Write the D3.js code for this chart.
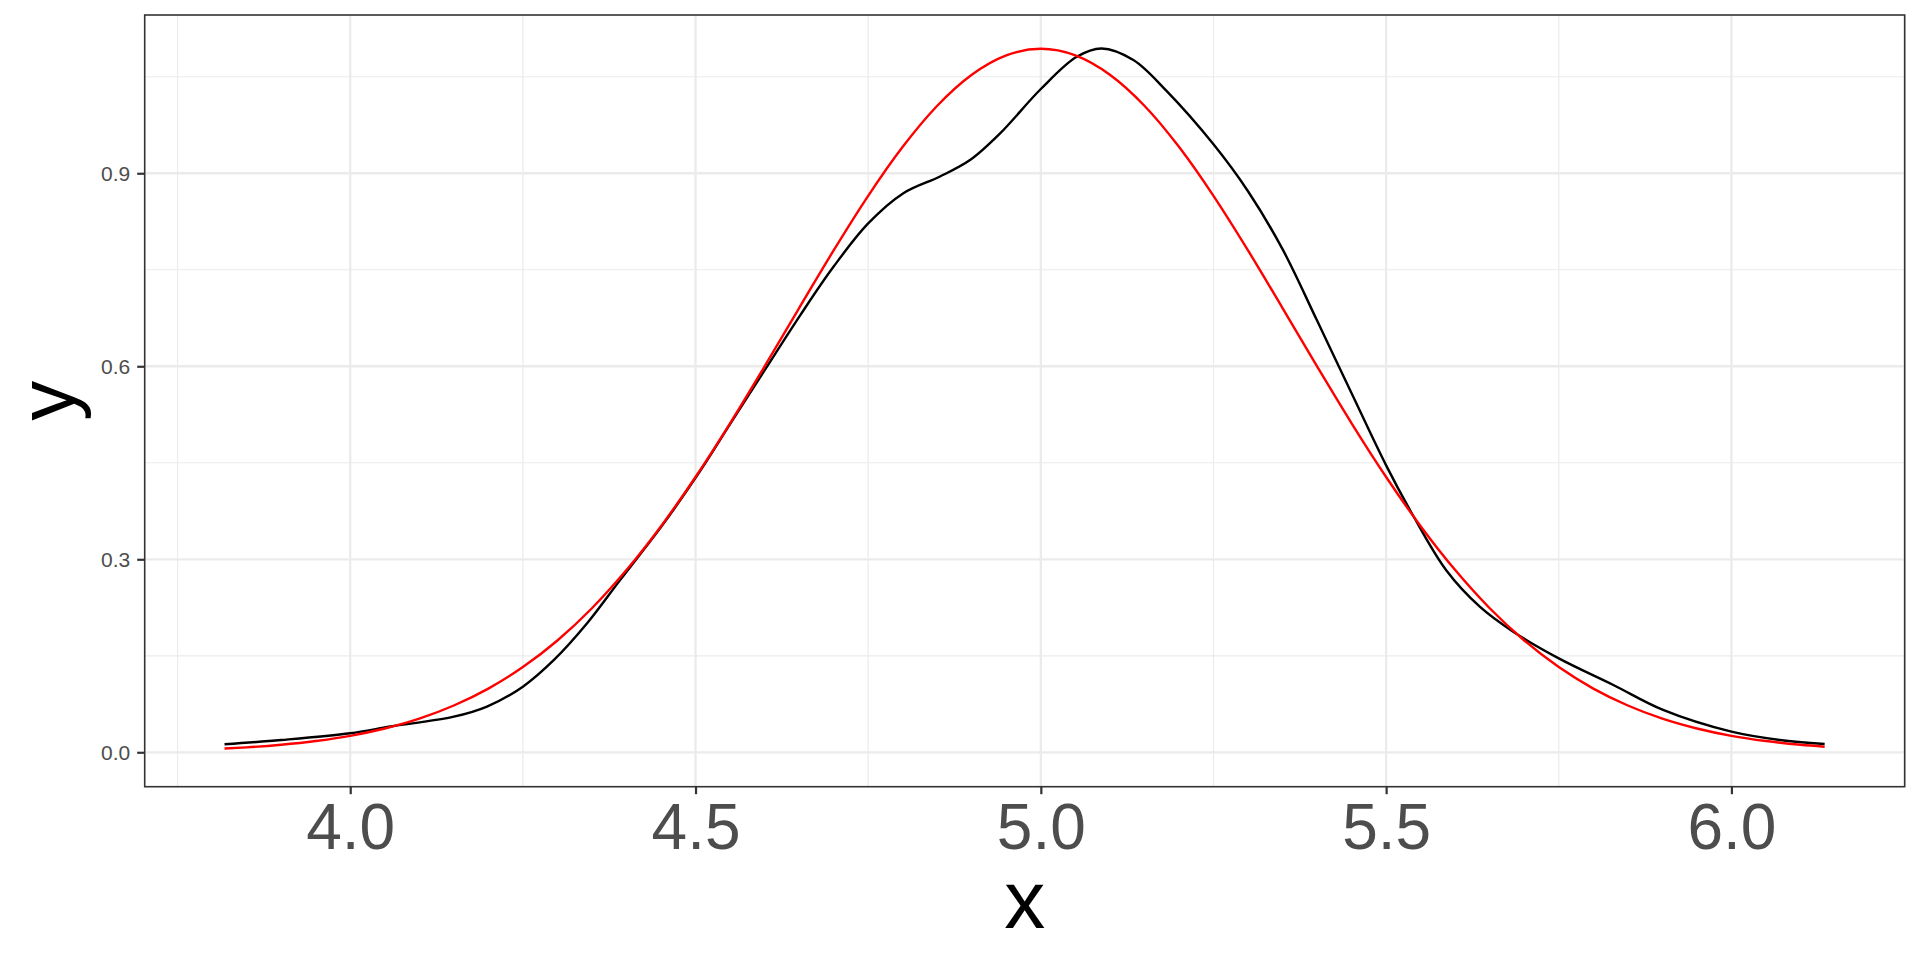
<!DOCTYPE html>
<html>
<head>
<meta charset="utf-8">
<script src="https://cdn.jsdelivr.net/npm/d3@7"></script>
<style>
  body { margin: 0; background: #fff; }
  svg text { font-family: "Liberation Sans", Arial, Helvetica, sans-serif; }
</style>
</head>
<body>
<div id="chart"></div>
<script type="text/javascript">
// density curve (black)
var densX = [3.818, 3.90, 4.00, 4.058, 4.15, 4.198, 4.25, 4.295, 4.343, 4.391, 4.45, 4.501, 4.55, 4.599,
             4.652, 4.70, 4.75, 4.801, 4.854, 4.898, 4.941, 5.00, 5.052, 5.088, 5.134, 5.182, 5.25, 5.30,
             5.35, 5.40, 5.45, 5.50, 5.539, 5.587, 5.636, 5.684, 5.75, 5.829, 5.901, 6.00, 6.07, 6.135];
var densY = [0.0124, 0.019, 0.0295, 0.040, 0.0553, 0.071, 0.102, 0.1435, 0.2005, 0.268, 0.350, 0.428, 0.510, 0.592,
             0.680, 0.755, 0.822, 0.869, 0.895, 0.921, 0.962, 1.031, 1.081, 1.094, 1.076, 1.028, 0.945, 0.872,
             0.782, 0.671, 0.558, 0.446, 0.368, 0.283, 0.226, 0.1875, 0.146, 0.1046, 0.0658, 0.032, 0.0191, 0.0129];

// normal curve (red)
var normX = [3.818, 3.85, 3.90, 3.95, 4.00, 4.05, 4.10, 4.15, 4.20, 4.25, 4.30, 4.35, 4.40, 4.45, 4.50, 4.55,
             4.60, 4.65, 4.70, 4.75, 4.80, 4.85, 4.90, 4.95, 5.00, 5.05, 5.10, 5.15, 5.20, 5.25, 5.30, 5.35,
             5.40, 5.45, 5.50, 5.55, 5.60, 5.65, 5.70, 5.75, 5.80, 5.85, 5.90, 5.95, 6.00, 6.05, 6.10, 6.135];
var normY = [0.0058, 0.0076, 0.0117, 0.0175, 0.0256, 0.0370, 0.0523, 0.0727, 0.0990, 0.1324, 0.1738, 0.2239,
             0.2832, 0.3514, 0.4279, 0.5114, 0.5998, 0.6905, 0.7801, 0.8649, 0.9411, 1.0050, 1.0532, 1.0833,
             1.0935, 1.0833, 1.0532, 1.0050, 0.9411, 0.8649, 0.7801, 0.6905, 0.5998, 0.5114, 0.4279, 0.3514,
             0.2832, 0.2239, 0.1738, 0.1324, 0.0990, 0.0727, 0.0523, 0.0370, 0.0256, 0.0175, 0.0117, 0.0087];

var xTicks = [4.0, 4.5, 5.0, 5.5, 6.0];
var xMinor = [3.75, 4.25, 4.75, 5.25, 5.75, 6.25];
var yTicks = [0.0, 0.3, 0.6, 0.9];
var yMinor = [0.15, 0.45, 0.75, 1.05];

var width = 1920, height = 960;
var panel = {left: 144.7, top: 15, right: 1904.7, bottom: 786.7};
var font = "'Liberation Sans', Arial, Helvetica, sans-serif";

var x = d3.scaleLinear().domain([3.7024, 6.2509]).range([panel.left, panel.right]);
var y = d3.scaleLinear().domain([-0.0535, 1.146]).range([panel.bottom, panel.top]);

var svg = d3.select("#chart").append("svg")
    .attr("width", width)
    .attr("height", height)
    .style("font-family", font);

var pw = panel.right - panel.left, ph = panel.bottom - panel.top;

// clip for everything drawn inside the panel
svg.append("clipPath").attr("id", "clip")
  .append("rect").attr("x", panel.left).attr("y", panel.top).attr("width", pw).attr("height", ph);

var grid = svg.append("g").attr("clip-path", "url(#clip)");

//minor grid
grid.selectAll(".vminor").data(xMinor).enter().append("line")
    .attr("x1", function (d) { return x(d); }).attr("x2", function (d) { return x(d); })
    .attr("y1", panel.top).attr("y2", panel.bottom)
    .attr("stroke", "#ebebeb").attr("stroke-width", 1.2);
grid.selectAll(".hminor").data(yMinor).enter().append("line")
    .attr("y1", function (d) { return y(d); }).attr("y2", function (d) { return y(d); })
    .attr("x1", panel.left).attr("x2", panel.right)
    .attr("stroke", "#ebebeb").attr("stroke-width", 1.2);

//major grid
grid.selectAll(".vmajor").data(xTicks).enter().append("line")
    .attr("x1", function (d) { return x(d); }).attr("x2", function (d) { return x(d); })
    .attr("y1", panel.top).attr("y2", panel.bottom)
    .attr("stroke", "#ebebeb").attr("stroke-width", 2.3);
grid.selectAll(".hmajor").data(yTicks).enter().append("line")
    .attr("y1", function (d) { return y(d); }).attr("y2", function (d) { return y(d); })
    .attr("x1", panel.left).attr("x2", panel.right)
    .attr("stroke", "#ebebeb").attr("stroke-width", 2.3);

var dens = densX.map(function (v, i) { return [v, densY[i]]; });
var norm = normX.map(function (v, i) { return [v, normY[i]]; });

grid.append("path").datum(dens)
    .attr("d", d3.line()
        .x(function (d) { return x(d[0]); })
        .y(function (d) { return y(d[1]); })
        .curve(d3.curveCatmullRom.alpha(0.5)))
    .attr("fill", "none").attr("stroke", "#000").attr("stroke-width", 2.4);

grid.append("path").datum(norm)
    .attr("d", d3.line()
        .x(function (d) { return x(d[0]); })
        .y(function (d) { return y(d[1]); })
        .curve(d3.curveMonotoneX))
    .attr("fill", "none").attr("stroke", "#ff0000").attr("stroke-width", 2.4);

// panel border
svg.append("rect")
    .attr("x", panel.left).attr("y", panel.top).attr("width", pw).attr("height", ph)
    .attr("fill", "none").attr("stroke", "#333333").attr("stroke-width", 1.6);

// axes
var xAxis = d3.axisBottom(x).tickValues(xTicks).tickSize(7.5).tickPadding(8)
    .tickFormat(d3.format(".1f"));
var gx = svg.append("g").attr("transform", "translate(0," + panel.bottom + ")").call(xAxis)
    .attr("font-family", font);
gx.select(".domain").remove();
gx.selectAll(".tick line").attr("stroke", "#333333").attr("stroke-width", 2.2);
gx.selectAll(".tick text").attr("fill", "#4d4d4d").attr("font-size", 64)
    .attr("dy", null).attr("y", 0).attr("transform", "translate(0,62)");

var yAxis = d3.axisLeft(y).tickValues(yTicks).tickSize(7.5).tickPadding(7)
    .tickFormat(d3.format(".1f"));
var gy = svg.append("g").attr("transform", "translate(" + panel.left + ",0)").call(yAxis)
    .attr("font-family", font);
gy.select(".domain").remove();
gy.selectAll(".tick line").attr("stroke", "#333333").attr("stroke-width", 2.2);
gy.selectAll(".tick text").attr("fill", "#4d4d4d").attr("font-size", 21).attr("x", -14.5).attr("dy", "0.36em");

// axis titles
svg.append("text")
    .attr("x", (panel.left + panel.right) / 2).attr("y", 928)
    .attr("text-anchor", "middle").attr("font-size", 82).attr("fill", "#000")
    .text("x");

svg.append("text")
    .attr("transform", "translate(74," + ((panel.top + panel.bottom) / 2) + ") rotate(-90)")
    .attr("text-anchor", "middle").attr("font-size", 80).attr("fill", "#000")
    .text("y");
</script>
</body>
</html>
